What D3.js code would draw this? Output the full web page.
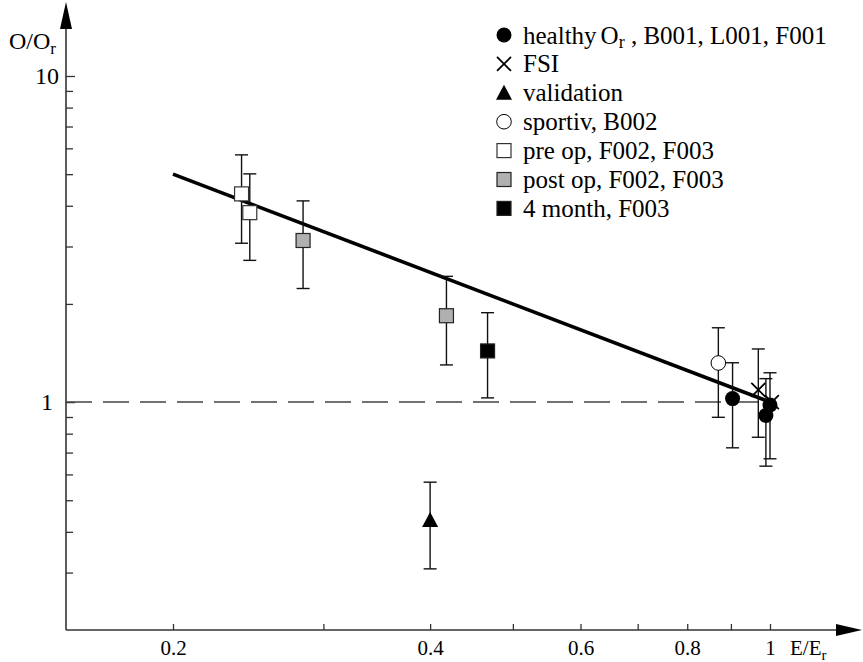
<!DOCTYPE html>
<html>
<head>
<meta charset="utf-8">
<script src="https://cdn.jsdelivr.net/npm/d3@7"></script>
<style>
  html, body { margin: 0; padding: 0; background: #fff; }
  svg text { font-family: "Liberation Serif", "Times New Roman", Times, "DejaVu Serif", serif !important; }
</style>
</head>
<body>
<svg id="chart" width="863" height="662"></svg>
<script>
// ---- data: E/Er (x), O/Or (y), error bar low / high ----
const healthy = [
  { x: 0.904, y: 1.025, lo: 0.724, hi: 1.32 },
  { x: 0.989, y: 0.91,  lo: 0.636, hi: 1.18 },
  { x: 1.0,   y: 0.98,  lo: 0.67,  hi: 1.23 }
];
const fsi = [
  { x: 0.969, y: 1.09, lo: 0.78, hi: 1.455 },
  { x: 1.005, y: 1.0,  lo: null, hi: null }
];
const validation = [
  { x: 0.40, y: 0.435, lo: 0.308, hi: 0.568 }
];
const sportiv = [
  { x: 0.870, y: 1.318, lo: 0.898, hi: 1.69 }
];
const preOp = [
  { x: 0.2406, y: 4.35, lo: 3.07, hi: 5.73 },
  { x: 0.246,  y: 3.81, lo: 2.72, hi: 5.01 }
];
const postOp = [
  { x: 0.284, y: 3.13, lo: 2.23, hi: 4.14 },
  { x: 0.418, y: 1.84, lo: 1.30, hi: 2.43 }
];
const month4 = [
  { x: 0.467, y: 1.435, lo: 1.03, hi: 1.88 }
];
// fitted trend O/Or = (E/Er)^-1 between these end points
const trendX = [0.2, 1.0];
const trendY = [5.0, 1.0];
const refLevel = 1;

// ticks
const xTicks = [0.2, 0.3, 0.4, 0.5, 0.6, 0.7, 0.8, 0.9, 1];
const xTickLabels = { 0.2: "0.2", 0.4: "0.4", 0.6: "0.6", 0.8: "0.8", 1: "1" };
const yTicks = [0.3, 0.4, 0.5, 0.6, 0.7, 0.8, 0.9, 1, 2, 3, 4, 5, 6, 7, 8, 9, 10];
const yTickLabels = { 1: "1", 10: "10" };

const legendItems = [
  { key: "healthy", label: [["healthy", 0], ["O", 0], ["r", 1], [" , B001, L001, F001", 0]] },
  { key: "fsi",     label: [["FSI", 0]] },
  { key: "valid",   label: [["validation", 0]] },
  { key: "sport",   label: [["sportiv, B002", 0]] },
  { key: "pre",     label: [["pre op, F002, F003", 0]] },
  { key: "post",    label: [["post op, F002, F003", 0]] },
  { key: "m4",      label: [["4 month, F003", 0]] }
];

// ---- layout ----
const svg = d3.select("#chart");
const axisX0 = 66, axisY0 = 630;
const x = d3.scaleLog().domain([0.2, 1]).range([173, 770]);
const y = d3.scaleLog().domain([0.2, 10]).range([630, 76]);
const ink = "#000";
const axisInk = "#333";
const grey = "#b0b0b0";
const serif = "'Liberation Serif', 'Times New Roman', Times, serif";

// ---- axes ----
const xAxis = d3.axisBottom(x)
  .tickValues(xTicks)
  .tickSizeInner(-6).tickSizeOuter(0)
  .tickPadding(10)
  .tickFormat(d => xTickLabels[d] || "");
const gx = svg.append("g").attr("transform", `translate(0,${axisY0})`).call(xAxis)
  .attr("font-family", serif);
gx.select(".domain").remove();
gx.selectAll(".tick line").attr("stroke", axisInk).attr("stroke-width", 1.3);
gx.selectAll(".tick text").attr("font-size", 21).attr("fill", ink);

const yAxis = d3.axisLeft(y)
  .tickValues(yTicks)
  .tickSizeInner(-7).tickSizeOuter(0)
  .tickPadding(19)
  .tickFormat(d => yTickLabels[d] || "");
const gy = svg.append("g").attr("transform", `translate(${axisX0},0)`).call(yAxis)
  .attr("font-family", serif);
gy.select(".domain").remove();
gy.selectAll(".tick line").attr("stroke", axisInk).attr("stroke-width", 1.3)
  .attr("x2", d => (d === 1 || d === 10) ? 9 : 7);
gy.selectAll(".tick text").attr("font-size", 24).attr("fill", ink)
  .attr("text-anchor", "middle");

// axis lines with arrow heads
svg.append("line").attr("x1", axisX0).attr("y1", axisY0).attr("x2", 840).attr("y2", axisY0)
  .attr("stroke", axisInk).attr("stroke-width", 1.6);
svg.append("path").attr("d", `M836,${axisY0 - 6} L862,${axisY0} L836,${axisY0 + 6} Z`).attr("fill", ink);
svg.append("line").attr("x1", axisX0).attr("y1", axisY0).attr("x2", axisX0).attr("y2", 24)
  .attr("stroke", axisInk).attr("stroke-width", 1.6);
svg.append("path").attr("d", `M${axisX0 - 6},29 L${axisX0},2 L${axisX0 + 6},29 Z`).attr("fill", ink);

// axis titles
const yTitle = svg.append("text").attr("x", 9).attr("y", 49)
  .attr("font-size", 24).attr("fill", ink);
yTitle.append("tspan").text("O/O");
yTitle.append("tspan").attr("font-size", 17).attr("dy", 5).text("r");

const xTitle = svg.append("text").attr("x", 790).attr("y", 655)
  .attr("font-size", 21).attr("fill", ink);
xTitle.append("tspan").text("E/E");
xTitle.append("tspan").attr("font-size", 15).attr("dy", 5).text("r");

// ---- reference level (dashed) ----
svg.append("line")
  .attr("x1", axisX0).attr("x2", x(1.01))
  .attr("y1", y(refLevel)).attr("y2", y(refLevel))
  .attr("stroke", "#444").attr("stroke-width", 1.5)
  .attr("stroke-dasharray", "26,11");

// ---- trend line ----
svg.append("line")
  .attr("x1", x(trendX[0])).attr("y1", y(trendY[0]))
  .attr("x2", x(trendX[1])).attr("y2", y(trendY[1]))
  .attr("stroke", ink).attr("stroke-width", 3.6);

// ---- error bars ----
function errorBars(data) {
  const g = svg.append("g").attr("stroke", "#111").attr("stroke-width", 1.4);
  data.filter(d => d.lo != null).forEach(d => {
    const cx = x(d.x);
    g.append("line").attr("x1", cx).attr("x2", cx).attr("y1", y(d.hi)).attr("y2", y(d.lo));
    g.append("line").attr("x1", cx - 6.5).attr("x2", cx + 6.5).attr("y1", y(d.hi)).attr("y2", y(d.hi));
    g.append("line").attr("x1", cx - 6.5).attr("x2", cx + 6.5).attr("y1", y(d.lo)).attr("y2", y(d.lo));
  });
}
[healthy, fsi, validation, sportiv, preOp, postOp, month4].forEach(errorBars);

// ---- marker shapes ----
function marker(g, kind, cx, cy) {
  switch (kind) {
    case "healthy":
      g.append("circle").attr("cx", cx).attr("cy", cy).attr("r", 7.5).attr("fill", ink); break;
    case "sport":
      g.append("circle").attr("cx", cx).attr("cy", cy).attr("r", 7.3)
        .attr("fill", "#fff").attr("stroke", ink).attr("stroke-width", 1); break;
    case "fsi":
      g.append("path").attr("d", `M${cx - 7},${cy - 7}L${cx + 7},${cy + 7}M${cx - 7},${cy + 7}L${cx + 7},${cy - 7}`)
        .attr("stroke", ink).attr("stroke-width", 1.8).attr("fill", "none"); break;
    case "valid":
      g.append("path").attr("d", `M${cx},${cy - 8}L${cx + 8},${cy + 7}L${cx - 8},${cy + 7}Z`).attr("fill", ink); break;
    case "pre":
    case "post":
    case "m4":
      g.append("rect").attr("x", cx - 7).attr("y", cy - 7).attr("width", 14).attr("height", 14)
        .attr("fill", kind === "pre" ? "#fff" : kind === "post" ? grey : ink)
        .attr("stroke", kind === "pre" ? "#333" : "#222").attr("stroke-width", 1.2); break;
  }
}

const series = [
  ["pre", preOp], ["post", postOp], ["m4", month4], ["valid", validation],
  ["sport", sportiv], ["healthy", healthy], ["fsi", fsi]
];
series.forEach(([kind, data]) => {
  const g = svg.append("g").attr("class", "series-" + kind);
  data.forEach(d => marker(g, kind, x(d.x), y(d.y)));
});

// ---- legend ----
const legend = svg.append("g").attr("transform", "translate(504,35)");
legendItems.forEach((item, i) => {
  const row = legend.append("g").attr("transform", `translate(0,${i * 28.9})`);
  marker(row, item.key, 0, 0);
  const t = row.append("text").attr("x", 19).attr("y", 8.5).attr("font-size", 25).attr("fill", ink);
  item.label.forEach(([s, sub]) => {
    const ts = t.append("tspan").text(s);
    if (s === "O") ts.attr("dx", 4);
    if (sub) ts.attr("font-size", 18).attr("dy", 4);
    else if (s.startsWith(" ,")) ts.attr("dy", -4);
  });
});
</script>
</body>
</html>
